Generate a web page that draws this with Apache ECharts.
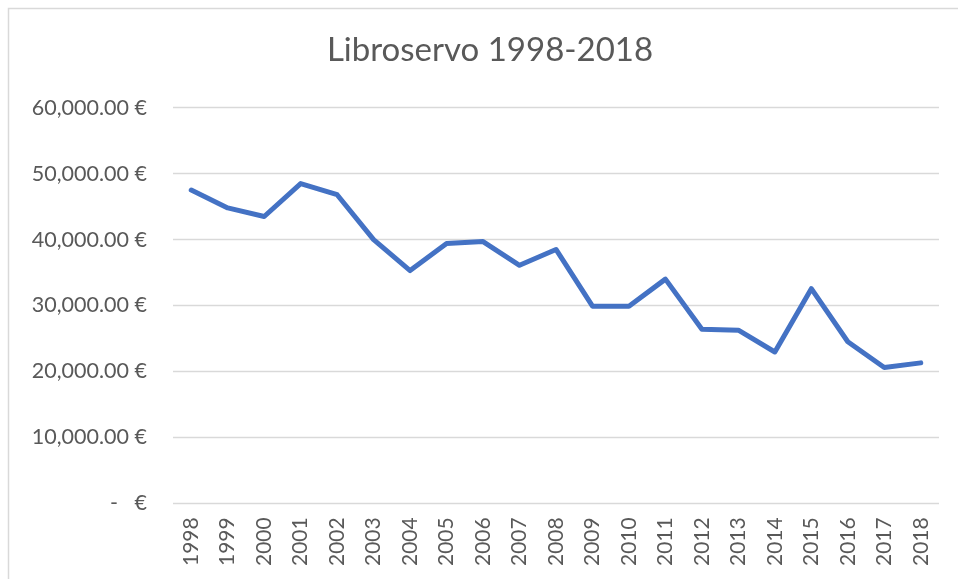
<!DOCTYPE html>
<html>
<head>
<meta charset="utf-8">
<script src="https://cdn.jsdelivr.net/npm/echarts@6/dist/echarts.min.js"></script>
<style>
    html, body { margin: 0; padding: 0; background: #fff; }
    #main { width: 958px; height: 579px; }
</style>
</head>
<body>
<div id="main"></div>
<script>
var years = ['1998', '1999', '2000', '2001', '2002', '2003', '2004', '2005', '2006', '2007',
    '2008', '2009', '2010', '2011', '2012', '2013', '2014', '2015', '2016', '2017', '2018'];
var revenue = [47500, 44800, 43500, 48500, 46800, 40000, 35300, 39400, 39700, 36100,
    38500, 29900, 29900, 34000, 26400, 26250, 22950, 32550, 24500, 20600, 21300];
var yTicks = [0, 10000, 20000, 30000, 40000, 50000, 60000];

function euro(v) {
    if (v === 0) return '-   €';
    return v.toLocaleString('en-US', {minimumFractionDigits: 2, maximumFractionDigits: 2}) + ' €';
}

var chart = echarts.init(document.getElementById('main'));
chart.setOption({
    animation: false,
    textStyle: { fontFamily: 'Lato' },
    title: {
        text: 'Libroservo 1998-2018',
        left: 485,
        textAlign: 'center',
        top: 29,
        textStyle: { fontFamily: 'Lato', fontSize: 33, fontWeight: 'normal', color: '#595959' }
    },
    graphic: [{
        type: 'rect',
        shape: { x: 8.5, y: 8.5, width: 1000, height: 1000 },
        style: { fill: 'none', stroke: '#D9D9D9', lineWidth: 1.5 },
        silent: true
    }],
    grid: { left: 173, right: 19, top: 107.7, bottom: 75.7, containLabel: false },
    xAxis: {
        type: 'category',
        data: years,
        boundaryGap: true,
        axisLine: { show: false },
        axisTick: { show: false },
        axisLabel: { rotate: 90, margin: 14, fontSize: 21, color: '#595959', interval: 0 }
    },
    yAxis: {
        type: 'value',
        min: yTicks[0],
        max: yTicks[yTicks.length - 1],
        interval: 10000,
        axisLine: { show: false },
        axisTick: { show: false },
        splitLine: { lineStyle: { color: '#D9D9D9', width: 1.3 } },
        axisLabel: { fontSize: 21.5, color: '#595959', margin: 26, formatter: euro }
    },
    series: [{
        type: 'line',
        data: revenue,
        symbol: 'none',
        lineStyle: { color: '#4472C4', width: 5, cap: 'round', join: 'round' },
        itemStyle: { color: '#4472C4' }
    }]
});
</script>
</body>
</html>
